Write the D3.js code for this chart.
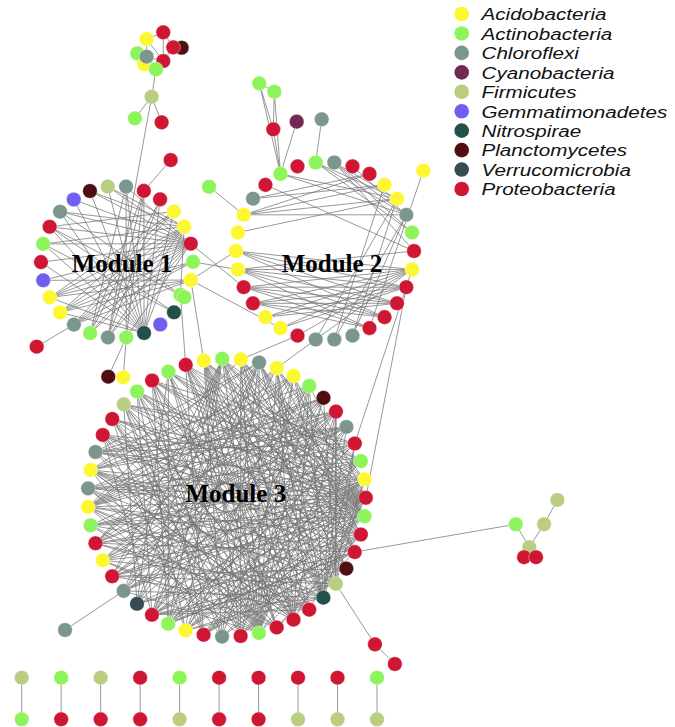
<!DOCTYPE html>
<html>
<head>
<meta charset="utf-8">
<script src="https://cdn.jsdelivr.net/npm/d3@7/dist/d3.min.js"></script>
<style>
html,body{margin:0;padding:0;background:#fff;}
svg{display:block;}
</style>
</head>
<body>
<script>
// ---------------- DATA ----------------
const phyla = ["Acidobacteria","Actinobacteria","Chloroflexi","Cyanobacteria","Firmicutes",
  "Gemmatimonadetes","Nitrospirae","Planctomycetes","Verrucomicrobia","Proteobacteria"];
const phylumCodes = ["A","G","C","Y","F","M","N","P","V","R"];

const moduleNames = ["Module 1","Module 2","Module 3"];

// node phyla, clockwise around each module circle
const module1Phyla = ["F","C","R","R","A","A","R","G","A","G","N","M","N","G","C","G","C","A","A","M","R","G","R","C","M","P"];
const module2Phyla = ["G","C","R","R","A","A","C","G","R","A","R","R","R","R","C","C","C","R","A","A","R","R","A","A","A","A","C","R","G","R"];
const module3Phyla = ["R","A","G","A","C","A","A","G","P","R","C","R","G","A","R","G","R","R","P","F","N","R","R","R","G","R","C","R","A","G","R","V","C","R","A","R","G","A","C","A","C","R","R","F","G","R","G"];

// within-module links: [node, [neighbours]]
const module1Links = [
  [6,[25,24,23,22,21,20,19,18,17,16,15,14,13,0,1]],
  [5,[23,21,18,17,16,15,14,25,0]],
  [12,[0,1,2,25,24,23,22,21,3,4,20,5,17,18]],
  [4,[22,18,17,16]],
  [7,[17,18,16]],
  [8,[18,17,16,19]],
  [2,[14,13,15]],
  [3,[15,14]],
  [10,[22,21]],
  [9,[22,23]],
  [1,[13,15]]
];
const module2Links = [
  [1,[6,7,8,5]],
  [0,[6,5,7]],
  [2,[6]],
  [25,[4,5,6,3]],
  [26,[3,4]],
  [28,[5,6]],
  [27,[8]],
  [24,[5]],
  [9,[23,22,21,20,19,18,17,16]],
  [10,[22,21,20,19,18]],
  [11,[22,21,20,19]],
  [12,[21,20,22,23]],
  [13,[22,21,20]],
  [23,[10,11]],
  [14,[6,5]],
  [15,[6,4]],
  [16,[5]],
  [22,[8]]
];
const module3Links = [
  [14,[0,1,2,3,5,7,26,27,28,29,30,31,32,33,34,35,36,37,38,39,40,41,42,43,44,45,46,24,22,21]],
  [15,[2,3,4,6,28,30,33,35,36,38,40,42,44,45,1,46,27,25]],
  [16,[0,2,4,5,29,31,34,37,39,41,43,46,26,24,23]],
  [13,[1,3,5,28,30,32,36,38,40,42,45,27,25,33]],
  [17,[1,3,4,6,27,29,31,35,37,39,41,44,23]],
  [12,[0,2,34,36,38,41,43,46,28,30,32]],
  [18,[0,2,4,36,39,42,44,30,33]],
  [11,[37,40,43,45,29,32,35]],
  [24,[0,1,2,3,4,5,6,7,8,9,10,40,41,42,43,44,45,46,36,38,34,32]],
  [22,[0,2,5,7,9,41,43,45,39,36]],
  [25,[1,3,6,8,42,44,46,37]],
  [26,[1,4,7,43,45,39]],
  [37,[5,6,7,8,9,10,20,21,23,3]],
  [39,[6,8,9,10,19,20,22,4]],
  [35,[6,8,10,20,5,21]],
  [40,[7,9,10,21,4]],
  [38,[8,10,19,21,23]],
  [33,[8,10,19,21,9]],
  [34,[7,9,19,23]],
  [2,[28,29,30,31,32,33,21,20]],
  [4,[29,31,33,35,30,20]],
  [5,[30,32,20,21]],
  [6,[28,31,34,19]],
  [7,[29,30,32,20]],
  [9,[28,31,36,19,30]],
  [10,[29,34,20,27]],
  [8,[30,32,19,28]],
  [1,[20,21,19,22,23]],
  [0,[19,20,23,27]],
  [45,[20,21,27,29]],
  [46,[21,23,29,31]],
  [44,[19,22,28,30]],
  [43,[20,22,31,27]],
  [42,[21,23,28]],
  [41,[19,27,30]],
  [3,[19,22,20]],
  [28,[19,20]],
  [30,[19,20,21]],
  [32,[20]],
  [19,[9,11,13]],
  [20,[11,13,9]],
  [27,[12,16]],
  [29,[11,13,17]]
];

// satellite nodes (id, phylum), listed in drawing order
const satelliteNodes = [
  ["t_p","P"],["t_y1","A"],["t_r2","R"],["t_r3","R"],["t_ga","G"],["t_y2","A"],["t_r4","R"],["t_c","C"],
  ["t_g2","G"],["t_firm","F"],["t_g1","G"],["t_r1","R"],
  ["p_r160","R"],["p_g295","G"],["p_r347","R"],["p_p377","P"],["p_y377","A"],
  ["p_g187","G"],["p_r129","R"],["p_cy","Y"],["p_g92","G"],["p_g83","G"],["p_c119","C"],["p_y171","A"],
  ["p_c630","C"],["p_r644","R"],["p_r664","R"],
  ["p_g524","G"],["p_f547","F"],["p_f524","F"],["p_f500","F"],["p_r557a","R"],["p_r557b","R"]
];

// links between modules and to satellites
const extraLinks = [
  ["t_r2","t_y1"],["t_r2","t_r3"],["t_r2","t_r4"],["t_y1","t_r4"],["t_y1","t_c"],["t_r3","t_r4"],["t_r3","t_p"],
  ["t_ga","t_c"],["t_c","t_r4"],["t_y2","t_g2"],["t_g2","t_r4"],["t_c","t_g2"],["t_g2","t_firm"],
  ["t_firm","t_g1"],["t_firm","t_r1"],["t_firm","m1-14"],
  ["p_r160","m1-2"],["p_g295","m1-5"],["p_g295","m3-0"],["p_r347","m1-16"],["p_p377","m1-13"],["p_y377","m1-13"],
  ["p_g187","m2-25"],["p_r129","m2-28"],["p_cy","m2-28"],["p_g92","m2-28"],["p_g83","m2-28"],
  ["p_g83","p_r129"],["p_g92","p_r129"],["p_g83","p_g92"],["p_c119","m2-0"],["p_y171","m2-13"],
  ["p_c630","m3-32"],["p_r644","m3-19"],["p_r644","p_r664"],
  ["p_g524","m3-17"],["p_g524","p_f547"],["p_f524","p_f547"],["p_f500","p_f524"],["p_r557a","p_f547"],["p_r557b","p_f547"],
  ["m1-6","m2-21"],["m1-8","m2-23"],["m1-7","m2-22"],["m1-8","m2-18"],["m1-8","m3-1"],
  ["m2-9","m3-11"],["m2-10","m3-14"],["m3-5","m2-16"],["m3-3","m2-17"]
];

// isolated pairs at the bottom
const pairTop    = ["F","G","F","R","G","R","R","R","R","G"];
const pairBottom = ["G","R","R","R","F","R","R","F","F","F"];

// ---------------- LAYOUT / STYLE ----------------
const W = 675, H = 727;
const colors = ["#FDF731","#8DF55B","#7A968D","#742955","#BACE82","#705DF2","#24504C","#4F0F10","#364B52","#CF1632"];
const color = d3.scaleOrdinal().domain(phylumCodes).range(colors);

const moduleLayout = [
  {cx:117, cy:262, r:76, start:-97, lx:5, ly:10},
  {cx:325, cy:251, r:89, start:-96, lx:7, ly:21},
  {cx:226.8, cy:497.7, r:139, start:-107.2, lx:9, ly:4}
];
// satellite placement: anchor node, angle (deg), distance
const satelliteLayout = {
  t_firm:["m1-1",-74.1,93.4], t_g1:["t_firm",127.7,27.3], t_r1:["t_firm",68.7,27.5], t_g2:["t_firm",-81.1,27.7],
  t_p:["t_g2",-40,33.6], t_y1:["t_g2",-107.1,31.7], t_r2:["t_g2",-78.8,37.7], t_r3:["t_g2",-51.8,28],
  t_ga:["t_g2",-139.4,24.6], t_y2:["t_g2",-156.9,12.7], t_r4:["t_g2",-48.7,11.1], t_c:["t_g2",-126.4,15.7],
  p_r160:["m1-2",-49,40.9], p_g295:["m1-9",-148.6,4.6], p_r347:["m1-16",149.3,43.3],
  p_p377:["m1-13",114.6,43.2], p_y377:["m1-13",94.3,40],
  p_g187:["m2-25",-141,44.6], p_r129:["m2-28",-99.2,45.2], p_cy:["m2-28",-72.8,54.7],
  p_g92:["m2-28",-94.3,82.4], p_g83:["m2-28",-103.2,93], p_c119:["m2-0",-82.1,43.6], p_y171:["m2-5",-46.8,38.4],
  p_c630:["m3-32",146.3,70.5], p_r644:["m3-19",57.1,72], p_r664:["p_r644",44.6,28],
  p_g524:["m3-17",-9.8,163.4], p_f547:["p_g524",59.4,26.7], p_f524:["p_g524",0,28.3],
  p_f500:["p_f524",-61.3,27.7], p_r557a:["p_f547",117.9,11.3], p_r557b:["p_f547",56.2,12]
};
const nodeR = 7.3;

// ---------------- BUILD ----------------
const svg = d3.select("body").append("svg").attr("width",W).attr("height",H);
svg.append("rect").attr("width",W).attr("height",H).attr("fill","#fff");

const pos = {};
const moduleNodes = [];
const links = [];
const modulesData = [
  {phyla:module1Phyla, links:module1Links},
  {phyla:module2Phyla, links:module2Links},
  {phyla:module3Phyla, links:module3Links}
];
modulesData.forEach((m,mi) => {
  const L = moduleLayout[mi];
  const n = m.phyla.length;
  const ang = d3.scaleLinear().domain([0,n]).range([L.start, L.start+360]);
  m.phyla.forEach((p,i) => {
    const a = ang(i)*Math.PI/180;
    const id = `m${mi+1}-${i}`;
    pos[id] = {x:L.cx + L.r*Math.cos(a), y:L.cy + L.r*Math.sin(a)};
    moduleNodes.push({id, p});
  });
  m.links.forEach(([s,ts]) => ts.forEach(t => links.push([`m${mi+1}-${s}`,`m${mi+1}-${t}`])));
});
function resolve(id){
  if (pos[id]) return pos[id];
  const [anchor, deg, dist] = satelliteLayout[id];
  const a = resolve(anchor);
  const r = deg*Math.PI/180;
  pos[id] = {x:a.x + dist*Math.cos(r), y:a.y + dist*Math.sin(r)};
  return pos[id];
}
satelliteNodes.forEach(([id]) => resolve(id));
extraLinks.forEach(l => links.push(l));

// pairs
const pairX = d3.scalePoint().domain(d3.range(pairTop.length)).range([21.7, 377]);
const pairY = d3.scalePoint().domain(["top","bottom"]).range([677.7, 719.3]);

// edges
const gEdges = svg.append("g").attr("stroke","#747474").attr("stroke-width",0.85).attr("stroke-opacity",0.88);
gEdges.selectAll("line.e").data(links).join("line").attr("class","e")
  .attr("x1",d=>pos[d[0]].x).attr("y1",d=>pos[d[0]].y)
  .attr("x2",d=>pos[d[1]].x).attr("y2",d=>pos[d[1]].y);
gEdges.selectAll("line.pe").data(pairTop).join("line").attr("class","pe")
  .attr("x1",(d,i)=>pairX(i)).attr("x2",(d,i)=>pairX(i))
  .attr("y1",pairY("top")).attr("y2",pairY("bottom"));

// module labels
svg.append("g").selectAll("text").data(moduleNames).join("text")
  .attr("x",(d,i)=>moduleLayout[i].cx + moduleLayout[i].lx)
  .attr("y",(d,i)=>moduleLayout[i].cy + moduleLayout[i].ly)
  .attr("text-anchor","middle")
  .attr("font-family","'Liberation Serif','Times New Roman',serif")
  .attr("font-weight","bold").attr("font-size",25).attr("fill","#000")
  .text(d=>d);

// nodes
const gNodes = svg.append("g").attr("stroke","#fff").attr("stroke-width",0.6).attr("stroke-opacity",0.6);
gNodes.selectAll("circle.s").data(satelliteNodes).join("circle").attr("class","s")
  .attr("cx",d=>pos[d[0]].x).attr("cy",d=>pos[d[0]].y).attr("r",nodeR).attr("fill",d=>color(d[1]));
gNodes.selectAll("circle.m").data(moduleNodes).join("circle").attr("class","m")
  .attr("cx",d=>pos[d.id].x).attr("cy",d=>pos[d.id].y).attr("r",nodeR).attr("fill",d=>color(d.p));
gNodes.selectAll("circle.pt").data(pairTop).join("circle").attr("class","pt")
  .attr("cx",(d,i)=>pairX(i)).attr("cy",pairY("top")).attr("r",nodeR).attr("fill",d=>color(d));
gNodes.selectAll("circle.pb").data(pairBottom).join("circle").attr("class","pb")
  .attr("cx",(d,i)=>pairX(i)).attr("cy",pairY("bottom")).attr("r",nodeR).attr("fill",d=>color(d));

// legend
const legY = d3.scalePoint().domain(phyla).range([14, 189]);
const leg = svg.append("g");
leg.selectAll("circle").data(phyla).join("circle")
  .attr("cx",461.7).attr("cy",d=>legY(d)).attr("r",nodeR)
  .attr("fill",(d,i)=>color(phylumCodes[i]));
leg.selectAll("g.lt").data(phyla).join("g").attr("class","lt")
  .attr("transform",d=>`translate(481.5,${legY(d)+6.3}) scale(1.2,1)`)
  .append("text")
  .attr("font-family","'Liberation Sans',Arial,sans-serif").attr("font-style","italic")
  .attr("font-size",17.2).attr("fill","#111")
  .text(d=>d);
</script>
</body>
</html>
